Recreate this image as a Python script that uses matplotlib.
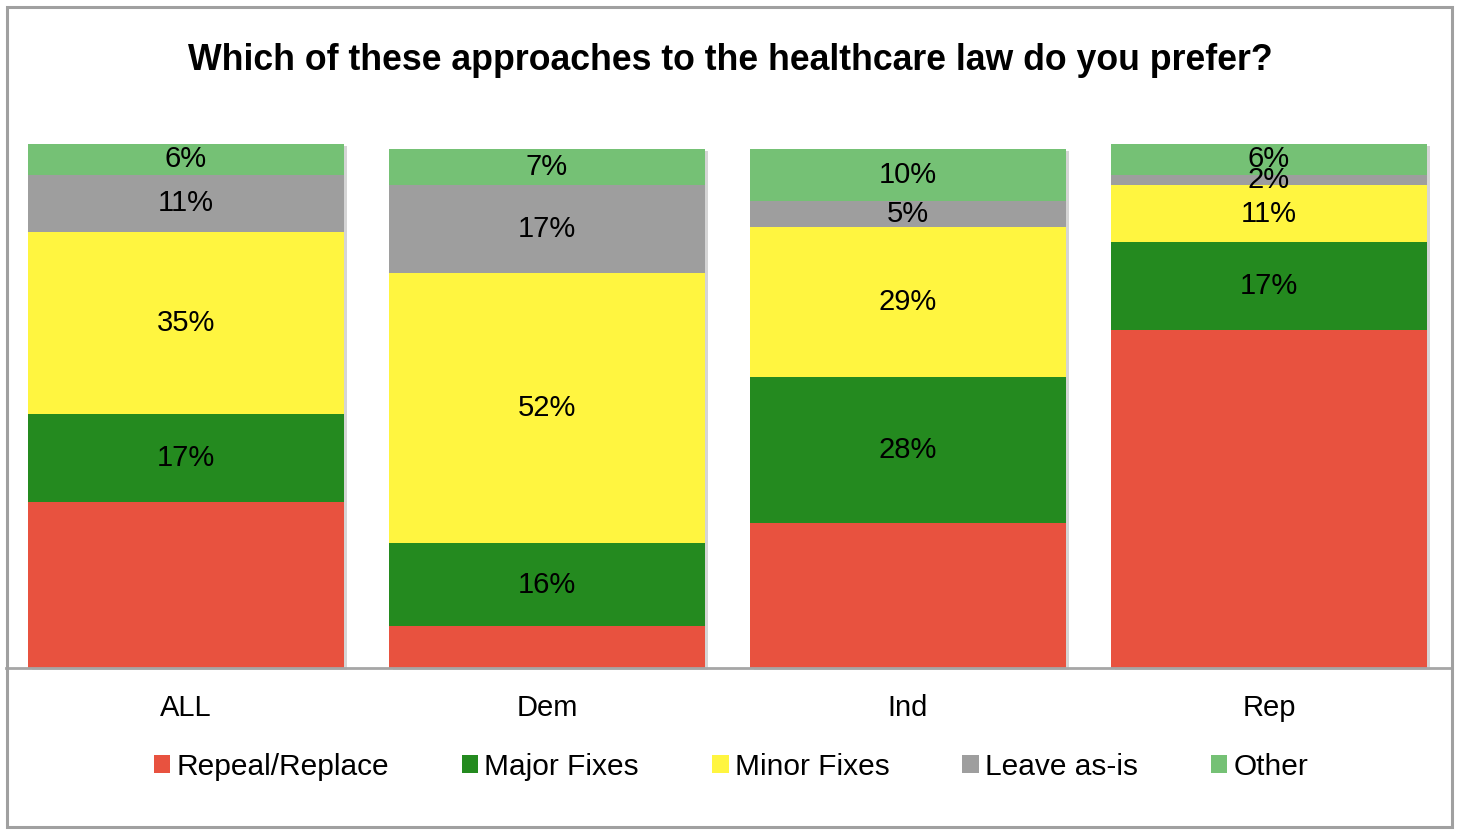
import matplotlib
matplotlib.use("Agg")
import matplotlib.pyplot as plt
import matplotlib.patheffects as pe
from matplotlib.patches import Rectangle

plt.rcParams['font.family'] = ['Liberation Sans', 'DejaVu Sans']

# ---- data ----
categories = ['ALL', 'Dem', 'Ind', 'Rep']
series_names = ['Repeal/Replace', 'Major Fixes', 'Minor Fixes', 'Leave as-is', 'Other']
repeal_replace = [32, 8, 28, 65]
major_fixes = [17, 16, 28, 17]
minor_fixes = [35, 52, 29, 11]
leave_as_is = [11, 17, 5, 2]
other = [6, 7, 10, 6]
show_labels = [False, True, True, True, True]
colors = ['#E8523F', '#248A1F', '#FFF540', '#9E9E9E', '#75C175']
title = 'Which of these approaches to the healthcare law do you prefer?'

W, H = 1460, 835
fig = plt.figure(figsize=(W / 100, H / 100), dpi=100)
ax = fig.add_axes([5.5 / W, (H - 668) / H, 1444 / W, 519.3 / H])

x = list(range(len(categories)))
all_series = [repeal_replace, major_fixes, minor_fixes, leave_as_is, other]
totals = [sum(v) for v in zip(*all_series)]

# soft shadow behind each full stack
shadow = ax.bar(x, totals, width=0.875, color='white', zorder=1, clip_on=False, linewidth=0)
for b in shadow:
    b.set_path_effects([pe.SimplePatchShadow(offset=(2.5, -1.5), shadow_rgbFace='#888888', alpha=0.35)])

bottom = [0] * len(categories)
handles = []
for name, vals, col, lab in zip(series_names, all_series, colors, show_labels):
    ax.bar(x, vals, width=0.875, bottom=bottom, color=col, label=name,
           zorder=2, clip_on=False, linewidth=0)
    if lab:
        for xi, v, b0 in zip(x, vals, bottom):
            ax.text(xi, b0 + v / 2, f'{v}%', ha='center', va='center',
                    fontsize=21, color='black', zorder=5)
    handles.append(Rectangle((0, 0), 1, 1, facecolor=col, edgecolor='none', label=name))
    bottom = [b0 + v for b0, v in zip(bottom, vals)]

ax.set_xlim(-0.5, 3.5)
ax.set_ylim(0, 100)
for s in ['top', 'left', 'right']:
    ax.spines[s].set_visible(False)
ax.spines['bottom'].set_color('#A6A6A6')
ax.spines['bottom'].set_linewidth(2)
ax.spines['bottom'].set_zorder(3)
ax.set_yticks([])
ax.set_xticks(x, categories, fontsize=21)
ax.tick_params(axis='x', length=0, pad=19)
ax.patch.set_visible(False)

fig.text(730 / W, 1 - 61 / H, title, ha='center', va='center',
         fontsize=25.7, fontweight='bold')

fig.legend(handles=handles, loc='center', bbox_to_anchor=(731 / W, 1 - 767 / H),
           ncol=5, frameon=False, fontsize=21.5, handlelength=0.55, handleheight=0.55,
           handletextpad=0.2, columnspacing=2.45, borderpad=0, borderaxespad=0)

fig.add_artist(Rectangle((6.5 / W, 8 / H), 1445 / W, 820 / H, transform=fig.transFigure,
                         fill=False, edgecolor='#A0A0A0', linewidth=2.2))

fig.savefig('out.png', dpi=100)
